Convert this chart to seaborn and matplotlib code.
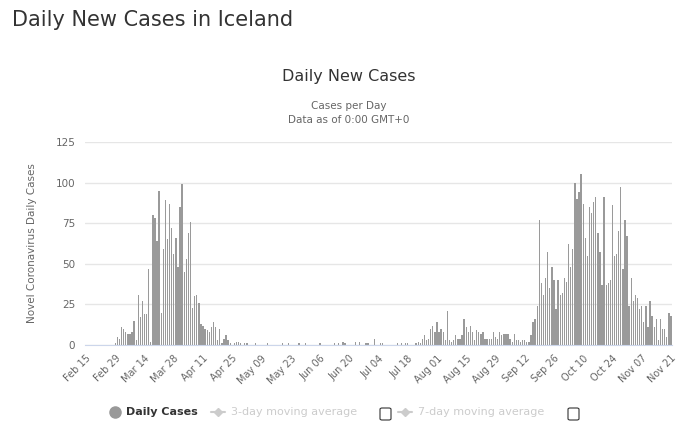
import pandas as pd
import seaborn as sns
import matplotlib.pyplot as plt
from matplotlib.lines import Line2D
from matplotlib.patches import FancyBboxPatch

# Daily new cases
feb = [0, 0, 0, 0, 0, 0, 0, 0, 0, 0, 0, 0, 0, 0, 1]  # Feb 15 - Feb 29
mar = [5, 4, 11, 10, 8, 7, 7, 8, 15, 3, 31, 17, 27, 19, 19, 47,
       2, 80, 78, 64, 95, 20, 59, 89, 65, 87, 72, 56, 66, 48, 85]
apr = [99, 45, 53, 69, 76, 23, 30, 31, 26, 13, 12, 10, 9, 8, 11,
       14, 11, 3, 10, 1, 4, 6, 3, 1, 0, 1, 2, 2, 1, 0]
may = [1, 1, 0, 0, 0, 1, 0, 0, 0, 0, 0, 1, 0, 0, 0, 0,
       0, 0, 1, 0, 0, 1, 0, 0, 0, 0, 1, 0, 0, 1, 0]
jun = [0, 0, 0, 0, 0, 1, 0, 0, 0, 0, 0, 0, 1, 0, 1,
       0, 2, 1, 0, 0, 0, 0, 2, 0, 2, 0, 0, 1, 1, 0]
jul = [0, 4, 0, 0, 1, 1, 0, 0, 0, 0, 0, 0, 1, 0, 1, 0,
       1, 1, 0, 0, 0, 1, 2, 1, 4, 6, 3, 4, 10, 12, 8]
aug = [14, 8, 10, 8, 3, 21, 3, 2, 3, 6, 4, 4, 6, 16, 11, 8,
       12, 8, 3, 9, 8, 7, 8, 4, 4, 4, 4, 8, 5, 4, 8]
sep = [6, 7, 7, 7, 4, 2, 7, 3, 3, 2, 3, 3, 2, 2, 6,
       14, 16, 24, 77, 38, 31, 41, 57, 35, 48, 40, 22, 40, 31, 32]
oct_ = [41, 39, 62, 48, 59, 100, 90, 94, 105, 87, 66, 55, 85, 81, 88, 91,
        69, 57, 37, 91, 37, 38, 40, 86, 55, 56, 70, 97, 47, 77, 67]
nov = [24, 41, 27, 31, 29, 22, 24, 14, 24, 11, 27, 18, 11, 16, 3,
       16, 10, 10, 5, 20, 18]  # Nov 1 - Nov 21

y_ticks = [0, 25, 50, 75, 100, 125]

daily_cases = feb + mar + apr + may + jun + jul + aug + sep + oct_ + nov
dates = pd.date_range("2020-02-15", "2020-11-21", freq="D")
df = pd.DataFrame({"date": dates.strftime("%b %d"), "cases": daily_cases})

sns.set_style("white")
plt.rcParams["font.family"] = ["DejaVu Sans"]

fig = plt.figure(figsize=(7, 4.44), dpi=100)
ax = fig.add_axes([85 / 700, 1 - 345 / 444, 587 / 700, 203 / 444])

sns.barplot(data=df, x="date", y="cases", color="#9a9a9a", saturation=1,
            width=0.65, linewidth=0, ax=ax)

ax.set_xlim(-0.5, len(df) - 0.5)
ax.set_ylim(0, 125)
ax.set_yticks(y_ticks)
ax.set_yticklabels([str(v) for v in y_ticks], color="#666666", fontsize=7.5)
tick_pos = list(range(0, len(df), 14))
ax.set_xticks(tick_pos)
ax.set_xticklabels(df["date"].iloc[tick_pos], rotation=45, ha="right",
                   rotation_mode="anchor", color="#666666", fontsize=7)
ax.tick_params(axis="both", length=0)
ax.tick_params(axis="x", pad=6)
ax.tick_params(axis="y", pad=7)

ax.yaxis.grid(True, color="#e6e6e6", lw=1)
ax.set_axisbelow(True)
for side in ["top", "right", "left"]:
    ax.spines[side].set_visible(False)
ax.spines["bottom"].set_color("#ccd6eb")

ax.set_xlabel("")
ax.set_ylabel("Novel Coronavirus Daily Cases", color="#666666", fontsize=7.5,
              labelpad=13)

# titles
fig.text(12 / 700, 1 - 20 / 444, "Daily New Cases in Iceland", fontsize=15,
         color="#333333", va="center")
fig.text(349 / 700, 1 - 77 / 444, "Daily New Cases", fontsize=11.5,
         color="#333333", ha="center", va="center")
fig.text(349 / 700, 1 - 106 / 444, "Cases per Day", fontsize=7.5,
         color="#666666", ha="center", va="center")
fig.text(349 / 700, 1 - 120 / 444, "Data as of 0:00 GMT+0", fontsize=7.5,
         color="#666666", ha="center", va="center")

# legend, drawn by hand like the Highcharts one
ly = 1 - 412 / 444
fig.add_artist(Line2D([115 / 700], [ly], marker="o", ms=8, color="#999999",
                      transform=fig.transFigure))
fig.text(126 / 700, ly, "Daily Cases", fontsize=8, fontweight="bold",
         color="#333333", va="center")
for x0, label, box_x in [(211, "3-day moving average", 380),
                         (398, "7-day moving average", 568)]:
    fig.add_artist(Line2D([x0 / 700, (x0 + 14) / 700], [ly, ly], lw=1.5,
                          color="#cccccc", transform=fig.transFigure))
    fig.add_artist(Line2D([(x0 + 7) / 700], [ly], marker="D", ms=4,
                          color="#cccccc", transform=fig.transFigure))
    fig.text((x0 + 20) / 700, ly, label, fontsize=8, color="#cccccc",
             va="center")
    fig.add_artist(FancyBboxPatch((box_x / 700, 1 - 420 / 444), 11 / 700, 12 / 444,
                                  boxstyle="round,pad=0,rounding_size=0.003",
                                  fill=False, ec="#333333", lw=0.8,
                                  transform=fig.transFigure))

plt.savefig("out.png", dpi=100)
